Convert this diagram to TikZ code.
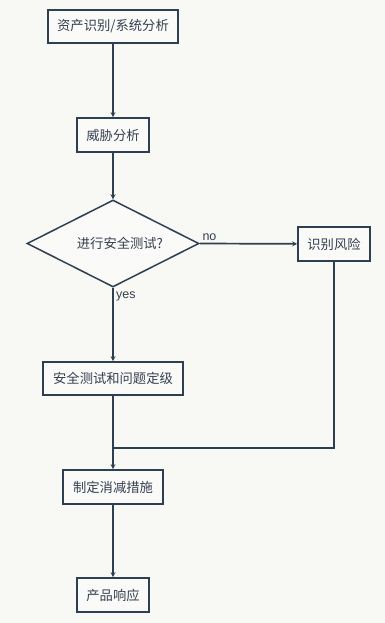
\documentclass[tikz,border=0pt]{standalone}
\usepackage{fontspec}
\setmainfont{Liberation Sans}
\newfontfamily\cjk{Noto Sans CJK SC}
\usetikzlibrary{shapes.geometric,arrows.meta}
\definecolor{bg}{HTML}{F8F8F4}
\definecolor{ln}{HTML}{2F3F52}
\definecolor{tx}{HTML}{35404F}
\definecolor{bx}{HTML}{FAFAF8}
\begin{document}
\begin{tikzpicture}[x=1pt,y=-1pt,
  boxnode/.style={draw=ln,line width=1.7pt,fill=bx,rectangle,inner sep=0pt,text=tx,font=\cjk\fontsize{13.3}{15}\selectfont},
  decnode/.style={draw=ln,line width=1.5pt,fill=bx,diamond,inner sep=0pt,text=tx,font=\cjk\fontsize{13.3}{15}\selectfont},
  conn/.style={draw=ln,line width=1.7pt,-{Stealth[length=5pt,width=5pt]}},
  plainconn/.style={draw=ln,line width=1.7pt},
  lbl/.style={text=tx,font=\fontsize{12.5}{14}\selectfont}]
\fill[bg] (0,0) rectangle (385,623);
\useasboundingbox (0,0) rectangle (385,623);
\node[boxnode,minimum width=130pt,minimum height=33pt] (a) at (113,26.5) {资产识别/系统分析};
\node[boxnode,minimum width=72pt,minimum height=34pt] (b) at (113,135) {威胁分析};
\node[decnode,minimum width=172pt,minimum height=87pt,aspect=2] (c) at (113,243.5) {};
\node[text=tx,font=\cjk\fontsize{13.3}{15}\selectfont] (ct) at (120,243.5) {进行安全测试?};
\node[boxnode,minimum width=72pt,minimum height=34pt] (r) at (334,244) {识别风险};
\node[boxnode,minimum width=140pt,minimum height=33pt] (t) at (113,378.5) {安全测试和问题定级};
\node[boxnode,minimum width=100pt,minimum height=34pt] (m) at (113,487) {制定消减措施};
\node[boxnode,minimum width=72pt,minimum height=34pt] (p) at (113,595) {产品响应};
\coordinate (j) at (113,448);
\draw[conn] (a) -- (b);
\draw[conn] (b) -- (c.north);
\draw[conn] (c.east) -- node[lbl,pos=0.1,above,yshift=-1.5pt] (no) {no} (r);
\draw[conn] (c.south) -- node[lbl,pos=0.12,right,xshift=-1pt] (yes) {yes} (t);
\draw[conn] (t) -- (m);
\draw[plainconn] (r) |- (j);
\draw[conn] (m) -- (p);
\end{tikzpicture}
\end{document}
